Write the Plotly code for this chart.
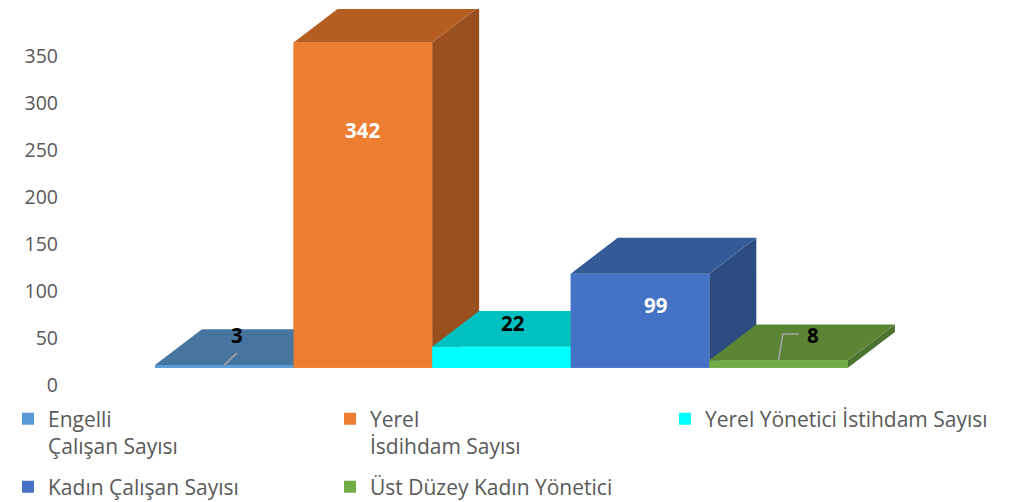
import plotly.graph_objects as go

# ---- data ----
categories = ["Engelli<br>Çalışan Sayısı", "Yerel<br>İsdihdam Sayısı",
              "Yerel Yönetici İstihdam Sayısı", "Kadın Çalışan Sayısı",
              "Üst Düzey Kadın Yönetici"]
values = [3, 342, 22, 99, 8]
front_colors = ["#5B9BD5", "#ED7D31", "#00FFFF", "#4472C4", "#70AD47"]
top_colors = ["#46769F", "#B45E22", "#00C0C0", "#345A97", "#598535"]
side_colors = ["#3E6890", "#9A4F1E", "#00A3A3", "#2C4B80", "#4B7430"]
tick_values = [0, 50, 100, 150, 200, 250, 300, 350]

# ---- 3D projection constants (data units) ----
DX = 0.339   # depth offset along x
DY = 37.6    # depth offset along y
H = 0.5      # half bar width

FONT = "'Open Sans', sans-serif"
GRAY = "#595959"
W, HT = 1003, 494

fig = go.Figure()

# dummy trace so the labelled axis is drawn
fig.add_trace(go.Scatter(x=[None], y=[None], yaxis="y", showlegend=False, hoverinfo="skip"))

# legend carriers / base bars (one legend box per entry, laid out as a grid)
legend_names = ["legend", "legend2", "legend3", "legend4", "legend5"]
for i, (c, v, col) in enumerate(zip(categories, values, front_colors)):
    fig.add_trace(go.Bar(x=[i], y=[v], width=1, name=c, marker_color=col,
                         marker_line_width=0, yaxis="y2", hoverinfo="skip",
                         legend=legend_names[i]))

def poly(xs, ys, color):
    fig.add_trace(go.Scatter(x=xs + [xs[0]], y=ys + [ys[0]], mode="lines",
                             fill="toself", fillcolor=color,
                             line=dict(width=0, color=color),
                             showlegend=False, hoverinfo="skip", yaxis="y2"))

for i, v in enumerate(values):
    poly([i + H, i + H + DX, i + H + DX, i + H], [0, DY, v + DY, v], side_colors[i])
    poly([i - H, i + H, i + H + DX, i - H + DX], [v, v, v + DY, v + DY], top_colors[i])
    poly([i - H, i + H, i + H, i - H], [0, 0, v, v], front_colors[i])

# data labels
label_pos = {0: (0.09, 34.5, "black"), 1: (1.0, 250, "white"), 2: (2.08, 47, "black"),
             3: (3.11, 65.8, "white"), 4: (4.247, 34.5, "black")}
for i, v in enumerate(values):
    lx, ly, lc = label_pos[i]
    fig.add_annotation(x=lx, y=ly, xref="x", yref="y2", text=f"<b>{v}</b>",
                       showarrow=False, font=dict(family=FONT, size=20.5, color=lc))

# leader lines
fig.add_shape(type="line", xref="x", yref="y2", x0=0, y0=values[0],
              x1=0.092, y1=values[0] + 12.7, line=dict(color="#A6A6A6", width=1.5))
fig.add_shape(type="path", xref="x", yref="y2",
              path=f"M 4.0 {values[4]} L 4.03 35.5 L 4.146 35.5",
              line=dict(color="#A6A6A6", width=1.5))

legend_common = dict(orientation="h", xref="container", yref="container",
                     xanchor="left", yanchor="top", valign="top",
                     font=dict(family=FONT, size=21, color=GRAY),
                     bgcolor="rgba(0,0,0,0)")
col_x = [-10, 322, 657]          # legend column positions (px)
row_top = [390.5, 458.5]         # legend row tops (px)
grid = [(0, 0), (0, 1), (0, 2), (1, 0), (1, 1)]
legends = {}
for name, (r, c) in zip(legend_names, grid):
    legends[name] = dict(x=col_x[c] / W, y=1 - row_top[r] / HT, **legend_common)

fig.update_layout(
    width=W, height=HT,
    margin=dict(l=51, r=12, t=1, b=112),
    paper_bgcolor="white", plot_bgcolor="white",
    barmode="overlay",
    showlegend=True,
    font=dict(family=FONT, color=GRAY),
    xaxis=dict(range=[-1.1926, 5.590], visible=False, fixedrange=True),
    yaxis=dict(range=[-3.17, 399.70], tickvals=tick_values, showgrid=False,
               zeroline=False, showline=False, ticks="",
               tickfont=dict(family=FONT, size=19.5, color=GRAY)),
    yaxis2=dict(range=[-20.90, 377.22], overlaying="y", visible=False),
    **legends,
)

fig.write_html("out.html")
